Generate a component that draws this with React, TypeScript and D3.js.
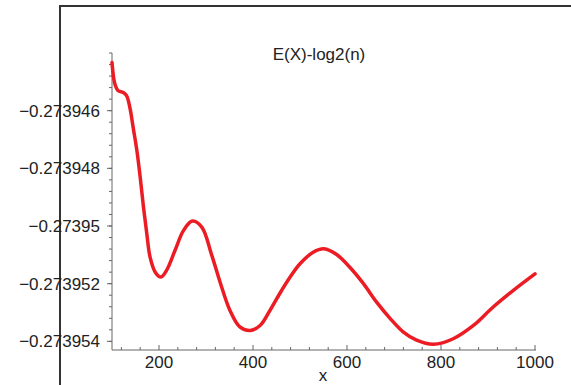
import * as React from 'react';
import * as d3 from 'd3';

// values
const xs = [100, 106, 113, 124, 131, 138, 145, 153, 160, 167, 174, 181, 192, 204, 216, 234, 252, 271, 291, 312, 330, 351, 372, 394, 415, 436, 457, 479, 500, 528, 551, 578, 606, 635, 663, 692, 720, 748, 784, 826, 869, 911, 954, 1000];
const ys = [
    -0.27394433, -0.27394507, -0.27394531, -0.27394537, -0.27394548, -0.27394589, -0.27394658, -0.27394739,
    -0.27394831, -0.27394935, -0.27395026, -0.27395108, -0.27395160, -0.27395177, -0.27395154, -0.27395085,
    -0.27395016, -0.27394983, -0.27395004, -0.27395100, -0.27395195, -0.27395293, -0.27395350, -0.27395362,
    -0.27395345, -0.27395293, -0.27395234, -0.27395177, -0.27395131, -0.27395091, -0.27395079, -0.27395099,
    -0.27395143, -0.27395200, -0.27395264, -0.27395321, -0.27395368, -0.27395396, -0.27395410, -0.27395391,
    -0.27395345, -0.27395281, -0.27395223, -0.27395166
];
const xTicks = [200, 400, 600, 800, 1000];
const yTicks = [-0.273946, -0.273948, -0.27395, -0.273952, -0.273954];
const yTickLabels = ['\u22120.273946', '\u22120.273948', '\u22120.27395', '\u22120.273952', '\u22120.273954'];
const title = 'E(X)-log2(n)';
const xLabel = 'x';

const width = 571;
const height = 385;
const font = '"Liberation Sans", Arial, Helvetica, sans-serif';

export default function App() {
    const ref = React.useRef<SVGSVGElement>(null);

    React.useEffect(() => {
        const svg = d3.select(ref.current);
        svg.selectAll('*').remove();

        const xScale = d3.scaleLinear().domain([100, 1000]).range([112, 535]);
        const yScale = d3.scaleLinear().domain([-0.2739543, -0.273944]).range([350, 53]);

        // outer frame (left and top edges)
        svg.append('path')
            .attr('d', 'M60,' + height + 'V6H' + width)
            .attr('fill', 'none')
            .attr('stroke', '#333')
            .attr('stroke-width', 2);

        const axisColor = '#666';

        // minor ticks
        const xMinor = d3.range(120, 1000, 40).filter(v => v % 200 !== 0);
        svg.append('g').selectAll('line')
            .data(xMinor)
            .enter()
            .append('line')
            .attr('x1', d => xScale(d))
            .attr('x2', d => xScale(d))
            .attr('y1', 350)
            .attr('y2', 347)
            .attr('stroke', axisColor);
        svg.append('g').selectAll('line')
            .data(xTicks)
            .enter()
            .append('line')
            .attr('x1', d => xScale(d))
            .attr('x2', d => xScale(d))
            .attr('y1', 350)
            .attr('y2', 345)
            .attr('stroke', axisColor);

        const yMinor: number[] = [];
        for (let k = 0; k <= 25; k++) {
            yMinor.push(-0.273944 - 0.0000004 * k);
        }
        svg.append('g').selectAll('line')
            .data(yMinor.filter(v => yScale(v) <= 350 && yScale(v) >= 53))
            .enter()
            .append('line')
            .attr('x1', 112)
            .attr('x2', 109)
            .attr('y1', d => yScale(d))
            .attr('y2', d => yScale(d))
            .attr('stroke', axisColor);
        svg.append('g').selectAll('line')
            .data(yTicks)
            .enter()
            .append('line')
            .attr('x1', 112)
            .attr('x2', 107)
            .attr('y1', d => yScale(d))
            .attr('y2', d => yScale(d))
            .attr('stroke', axisColor);

        // axis lines
        svg.append('line')
            .attr('x1', 112).attr('x2', 536)
            .attr('y1', 350).attr('y2', 350)
            .attr('stroke', axisColor);
        svg.append('line')
            .attr('x1', 112).attr('x2', 112)
            .attr('y1', 53).attr('y2', 350)
            .attr('stroke', axisColor);

        // tick labels
        svg.append('g').selectAll('text')
            .data(xTicks)
            .enter()
            .append('text')
            .attr('x', d => xScale(d))
            .attr('y', 368)
            .attr('text-anchor', 'middle')
            .style('font-family', font)
            .style('font-size', '17px')
            .attr('fill', '#222')
            .text(d => String(d));
        svg.append('g').selectAll('text')
            .data(yTicks)
            .enter()
            .append('text')
            .attr('x', 100)
            .attr('y', d => yScale(d) + 6)
            .attr('text-anchor', 'end')
            .style('font-family', font)
            .style('font-size', '17px')
            .attr('fill', '#222')
            .text((d, i) => yTickLabels[i]);

        svg.append('text')
            .attr('x', 323)
            .attr('y', 381)
            .attr('text-anchor', 'middle')
            .style('font-family', font)
            .style('font-size', '17px')
            .attr('fill', '#222')
            .text(xLabel);

        svg.append('text')
            .attr('x', 319)
            .attr('y', 60)
            .attr('text-anchor', 'middle')
            .style('font-family', font)
            .style('font-size', '17px')
            .attr('fill', '#222')
            .text(title);

        const line = d3.line<number>()
            .x((d, i) => xScale(xs[i]))
            .y(d => yScale(d))
            .curve(d3.curveCatmullRom.alpha(0.5));
        svg.append('path')
            .datum(ys)
            .attr('d', line)
            .attr('fill', 'none')
            .attr('stroke', '#ec1c24')
            .attr('stroke-width', 3.5)
            .attr('stroke-linejoin', 'round')
            .attr('stroke-linecap', 'round');
    }, []);

    return (
        <svg ref={ref} width={width} height={height}
             style={{position: 'absolute', left: 0, top: 0, background: '#fff'}}/>
    );
}
